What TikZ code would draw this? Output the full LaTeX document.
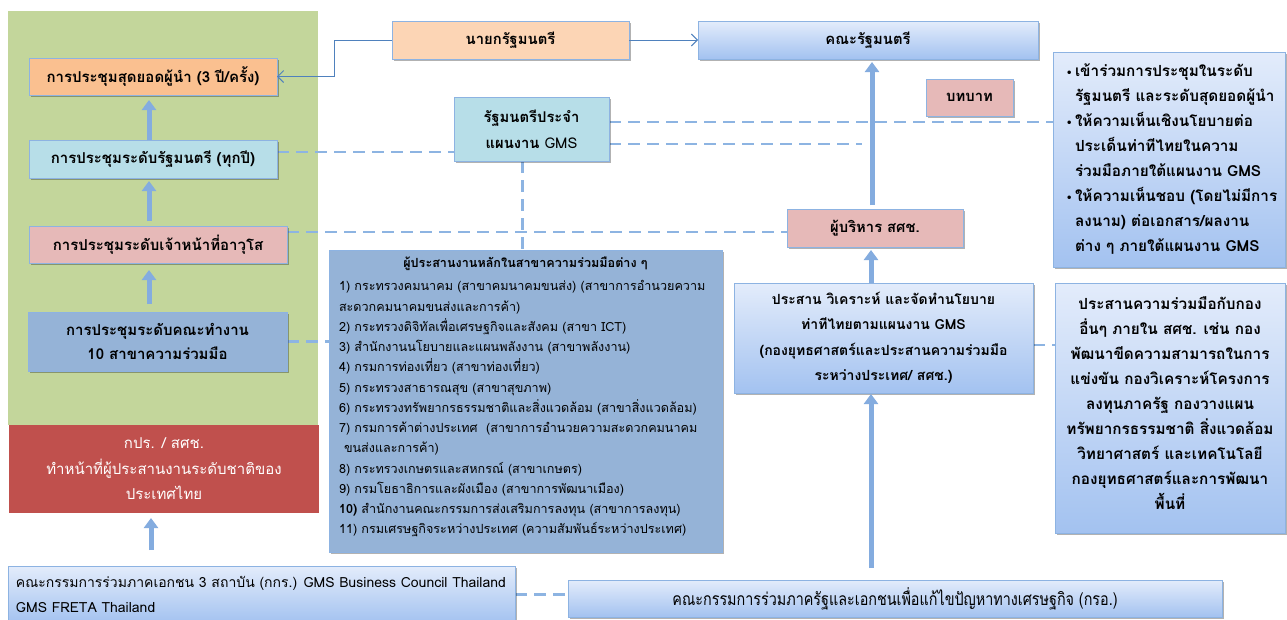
\documentclass[tikz,border=0pt]{standalone}
\usepackage{fontspec}
\setmainfont{Loma}[Script=Thai]
\newfontfamily\condfont{Loma}[Script=Thai,FakeStretch=0.82]
\newfontfamily\dvfont{DejaVu Sans}
\usetikzlibrary{shadows,arrows.meta}
\pgfdeclarelayer{back}
\pgfdeclarelayer{mid}
\pgfsetlayers{back,mid,main}
\definecolor{bggreen}{HTML}{C3D69B}
\definecolor{kred}{HTML}{C0504D}
\definecolor{corange}{HTML}{FAC090}
\definecolor{cblue}{HTML}{B7DEE8}
\definecolor{cpink}{HTML}{E6B9B8}
\definecolor{cdblue}{HTML}{95B3D7}
\definecolor{cpeach}{HTML}{FCD5B5}
\definecolor{gtop}{HTML}{E3ECFB}
\definecolor{gbot}{HTML}{A3C2F0}
\definecolor{edgeblue}{HTML}{8DB3E2}
\definecolor{dashblue}{HTML}{8DB4E2}
\definecolor{arrowblue}{HTML}{84ACDF}
\definecolor{linkblue}{HTML}{4F81BD}
\newcommand\fLeft{\fontsize{15}{24}\selectfont\bfseries}
\newcommand\fTop{\fontsize{14.8}{26}\selectfont\bfseries}
\newcommand\fRight{\fontsize{15.3}{25}\selectfont\bfseries}
\newcommand\fCoord{\fontsize{14}{25.5}\selectfont\bfseries}
\newcommand\fRed{\fontsize{15}{25.5}\selectfont}
\newcommand\fList{\fontsize{12.6}{20.25}\selectfont}
\newcommand\fKkr{\fontsize{14}{25}\selectfont}
\newcommand\fKro{\fontsize{17.5}{20}\selectfont\condfont}
\newcommand\bul{\llap{{\dvfont\fontsize{10}{10}\selectfont •}\,}}
\begin{document}
\begin{tikzpicture}[x=1pt,y=-1pt,
  plain/.style={anchor=north west, inner sep=0pt, outer sep=0pt},
  sz/.style 2 args={minimum width=#1pt, minimum height=#2pt},
  box/.style={plain, draw=edgeblue, line width=0.9pt,
    drop shadow={shadow xshift=2.2pt, shadow yshift=-2.2pt, opacity=0.3, fill=black}},
  grad/.style={top color=gtop, bottom color=gbot},
  dline/.style={draw=dashblue, line width=2.6pt, dash pattern=on 12pt off 7pt},
  bigarrow/.style={draw=arrowblue, line width=5pt, -{Triangle[width=14pt,length=10pt]}},
  thinarrow/.style={draw=linkblue, line width=0.9pt, -{Straight Barb[length=6pt,width=12pt]}}
]
\path[use as bounding box] (0,0) rectangle (1287,619);
\clip (0,0) rectangle (1287,619);

\begin{pgfonlayer}{back}
\fill[white] (0,0) rectangle (1287,619);
\node[plain, fill=bggreen, sz={310}{414}] (green) at (8,11) {};
\node[plain, fill=kred, sz={310}{88}, text=white, font=\fRed, align=center] (kpr) at (9,425)
  {กปร. / สศช.\\ทำหน้าที่ผู้ประสานงานระดับชาติของ\\ประเทศไทย};
\end{pgfonlayer}

% left column
\node[box, fill=corange, sz={248}{37}, font=\fLeft] (summit) at (29,58) {การประชุมสุดยอดผู้นำ (3 ปี/ครั้ง)};
\node[box, fill=cblue, sz={248}{38}, font=\fLeft] (minis) at (29,140) {การประชุมระดับรัฐมนตรี (ทุกปี)};
\node[box, fill=cpink, sz={258}{37}, font=\fLeft] (som) at (29,226) {การประชุมระดับเจ้าหน้าที่อาวุโส};
\node[box, fill=cdblue, sz={259}{59}, font=\fLeft, align=center] (wg) at (28,312) {การประชุมระดับคณะทำงาน\\10 สาขาความร่วมมือ};

% top row
\node[box, fill=cpeach, sz={237}{38}, font=\fTop] (pm) at (392,21) {นายกรัฐมนตรี};
\node[box, grad, sz={340}{38}, font=\fTop] (cab) at (698,21) {คณะรัฐมนตรี};
\node[box, fill=cblue, sz={155}{64}, font=\fTop, align=center] (rmgms) at (454,97) {รัฐมนตรีประจำ\\แผนงาน {\mdseries GMS}};
\node[box, fill=cpink, sz={87}{37}, font=\fTop] (role) at (926,79) {บทบาท};
\node[box, fill=cpink, sz={176}{38}, font=\fTop] (exec) at (787,209) {ผู้บริหาร สศช.};
\node[box, grad, sz={299}{110}, font=\fCoord, align=center] (coord) at (734,283)
  {ประสาน วิเคราะห์ และจัดทำนโยบาย\\ท่าทีไทยตามแผนงาน GMS\\(กองยุทธศาสตร์และประสานความร่วมมือ\\ระหว่างประเทศ/ สศช.)};

% right boxes
\node[box, grad, sz={232}{215}] (roles) at (1053,52) {};
\node[plain, anchor=west, font=\fRight, align=left] (rolestext) at ([xshift=22pt]roles.west)
  {\bul เข้าร่วมการประชุมในระดับ\\
   รัฐมนตรี และระดับสุดยอดผู้นำ\\
   \bul ให้ความเห็นเชิงนโยบายต่อ\\
   ประเด็นท่าทีไทยในความ\\
   ร่วมมือภายใต้แผนงาน GMS\\
   \bul ให้ความเห็นชอบ (โดยไม่มีการ\\
   ลงนาม) ต่อเอกสาร/ผลงาน\\
   ต่าง ๆ ภายใต้แผนงาน GMS};
\node[box, grad, sz={230}{250}] (other) at (1055,283) {};
\node[plain, anchor=center, font=\fRight, align=center] (othertext) at ([yshift=5pt]other.center)
  {ประสานความร่วมมือกับกอง\\อื่นๆ ภายใน สศช. เช่น กอง\\พัฒนาขีดความสามารถในการ\\แข่งขัน กองวิเคราะห์โครงการ\\ลงทุนภาครัฐ กองวางแผน\\ทรัพยากรธรรมชาติ สิ่งแวดล้อม\\วิทยาศาสตร์ และเทคโนโลยี\\กองยุทธศาสตร์และการพัฒนา\\พื้นที่};

% list box
\node[box, fill=cdblue, sz={393}{302}] (list) at (329,250) {};
\node[plain, anchor=west, font=\fList, align=left] (listtext) at ([xshift=10pt,yshift=4pt]list.west)
  {\hbox to 373pt{\hss\bfseries ผู้ประสานงานหลักในสาขาความร่วมมือต่าง ๆ\hss}\\[3pt]
   1) กระทรวงคมนาคม (สาขาคมนาคมขนส่ง) (สาขาการอำนวยความ\\
   สะดวกคมนาคมขนส่งและการค้า)\\
   2) กระทรวงดิจิทัลเพื่อเศรษฐกิจและสังคม (สาขา ICT)\\
   3) สำนักงานนโยบายและแผนพลังงาน (สาขาพลังงาน)\\
   4) กรมการท่องเที่ยว (สาขาท่องเที่ยว)\\
   5) กระทรวงสาธารณสุข (สาขาสุขภาพ)\\
   6) กระทรวงทรัพยากรธรรมชาติและสิ่งแวดล้อม (สาขาสิ่งแวดล้อม)\\
   7) กรมการค้าต่างประเทศ \ (สาขาการอำนวยความสะดวกคมนาคม\\
   \hspace*{5pt}ขนส่งและการค้า)\\
   8) กระทรวงเกษตรและสหกรณ์ (สาขาเกษตร)\\
   9) กรมโยธาธิการและผังเมือง (สาขาการพัฒนาเมือง)\\
   {\bfseries 10)} สำนักงานคณะกรรมการส่งเสริมการลงทุน (สาขาการลงทุน)\\
   11) กรมเศรษฐกิจระหว่างประเทศ (ความสัมพันธ์ระหว่างประเทศ)};

% bottom row
\node[box, grad, sz={507}{57}] (kkr) at (8,566) {};
\node[plain, anchor=west, font=\fKkr, align=left] (kkrtext) at ([xshift=8pt]kkr.west)
  {คณะกรรมการร่วมภาคเอกชน 3 สถาบัน (กกร.) GMS Business Council Thailand\\GMS FRETA Thailand};
\node[box, grad, sz={654}{37}, font=\fKro] (kro) at (568,580) {คณะกรรมการร่วมภาครัฐและเอกชนเพื่อแก้ไขปัญหาทางเศรษฐกิจ (กรอ.)};

% dashed connectors
\begin{pgfonlayer}{mid}
\draw[dline] ([yshift=7pt]minis.east) -- ([yshift=7pt]minis.east -| rmgms.west);
\draw[dline] ([yshift=7pt]rmgms.east) -- ([yshift=7pt]rmgms.east -| roles.west);
\coordinate (dend) at (862,144);
\draw[dline] (rmgms.east |- dend) -- (dend);
\draw[dline] ([xshift=-9pt]rmgms.south) -- ([xshift=-9pt]rmgms.south |- list.north);
\draw[dline] ([yshift=12.5pt]som.east) -- ([yshift=12.5pt]som.east -| exec.west);
\draw[dline] (wg.east) -- (wg.east -| list.west);
\draw[dline] ([yshift=-7pt]coord.east) -- ([yshift=-7pt]coord.east -| other.west);
\draw[dline] (kkr.east) -- (kkr.east -| kro.west);
\end{pgfonlayer}

% thick arrows
\draw[bigarrow, shorten >=5pt] ([xshift=-4pt]minis.north) -- ([xshift=-4pt]summit.south);
\draw[bigarrow, shorten <=5pt, shorten >=3pt] ([xshift=-9pt]som.north) -- ([xshift=-4pt]minis.south);
\draw[bigarrow, shorten <=8pt, shorten >=7pt] ([xshift=-8.5pt]wg.north) -- ([xshift=-9pt]som.south);
\draw[bigarrow, shorten <=16pt, shorten >=5pt] ([xshift=-13pt]kpr.south |- kkr.north) -- ([xshift=-13pt]kpr.south);
\draw[bigarrow, shorten <=4pt, shorten >=3pt] ([xshift=-3pt]exec.north) -- ([xshift=-3pt]exec.north |- cab.south);
\draw[bigarrow, shorten >=3pt] ([xshift=-12.5pt]coord.north) -- ([xshift=-12.5pt]coord.north |- exec.south);
\draw[bigarrow, shorten <=12pt, shorten >=1pt] ([xshift=-12.5pt]coord.south |- kro.north) -- ([xshift=-12.5pt]coord.south);

% thin connectors
\draw[thinarrow] (pm.west) -- ++(-58,0) |- (summit.east);
\draw[thinarrow] (pm.east) -- (pm.east -| cab.west);
\end{tikzpicture}
\end{document}
